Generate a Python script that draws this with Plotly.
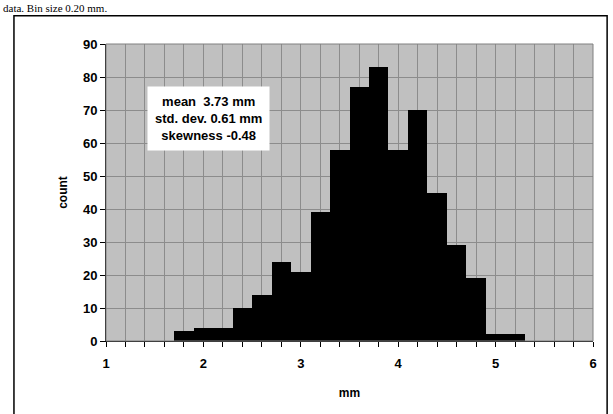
import plotly.graph_objects as go

bin_centers = [1.8, 2.0, 2.2, 2.4, 2.6, 2.8, 3.0, 3.2, 3.4, 3.6, 3.8, 4.0, 4.2, 4.4, 4.6, 4.8, 5.0, 5.2]
counts = [3, 4, 4, 10, 14, 24, 21, 39, 58, 77, 83, 58, 70, 45, 29, 19, 2, 2]
bin_width = 0.2
stats_text = "mean  3.73 mm<br>std. dev. 0.61 mm<br>skewness -0.48"
caption = "data. Bin size 0.20 mm."

fig = go.Figure()
fig.add_trace(go.Bar(x=bin_centers, y=counts, width=bin_width,
                     marker=dict(color="black", line=dict(width=0))))

font = dict(family="Liberation Sans, Arial", size=13, color="black")
fig.update_layout(
    width=613, height=414,
    margin=dict(l=106, r=20, t=44, b=73),
    paper_bgcolor="white", plot_bgcolor="#c0c0c0",
    showlegend=False, bargap=0,
    font=font,
    xaxis=dict(range=[1, 6], dtick=1, tick0=1, showgrid=True,
               gridcolor="#8c8c8c", gridwidth=1,
               minor=dict(dtick=0.2, showgrid=True, gridcolor="#8c8c8c", gridwidth=1,
                          ticks="outside", ticklen=5, tickcolor="black"),
               ticks="outside", ticklen=5, tickcolor="black",
               ticklabelstandoff=5,
               showline=True, linecolor="black", linewidth=1, mirror=False,
               zeroline=False,
               tickfont=dict(family="Liberation Sans, Arial", size=13, color="black"),
               title=dict(text="<b>mm</b>", font=dict(size=12), standoff=19),
               tickprefix="<b>", ticksuffix="</b>"),
    yaxis=dict(range=[0, 90], dtick=10, showgrid=True,
               gridcolor="#8c8c8c", gridwidth=1,
               ticks="outside", ticklen=5, tickcolor="black",
               showline=True, linecolor="black", linewidth=1,
               zeroline=False,
               tickfont=dict(family="Liberation Sans, Arial", size=13, color="black"),
               title=dict(text="<b>count</b>", font=dict(size=12), standoff=12),
               tickprefix="<b>", ticksuffix="</b>"),
)

# plot area border (top/right)
fig.add_shape(type="rect", xref="paper", yref="paper", x0=0, y0=0, x1=1, y1=1,
              line=dict(color="#808080", width=1), layer="above")
# outer frame
fig.add_shape(type="rect", xref="paper", yref="paper", x0=-0.189, y0=-0.3, x1=1.029, y1=1.095,
              line=dict(color="black", width=1.5), layer="above")

fig.add_annotation(x=2.057, y=67.4, xref="x", yref="y", text="<b>" + stats_text + "</b>",
                   showarrow=False, bgcolor="white", borderpad=7, align="center",
                   font=dict(family="Liberation Sans, Arial", size=13, color="black"))

fig.add_annotation(x=-0.215, y=1.148, xref="paper", yref="paper", text=caption,
                   showarrow=False, xanchor="left", yanchor="top",
                   font=dict(family="Liberation Serif, Times New Roman", size=11, color="black"))

fig.write_html("out.html", config={"displayModeBar": False},
               post_script="document.body.style.margin='0';")
